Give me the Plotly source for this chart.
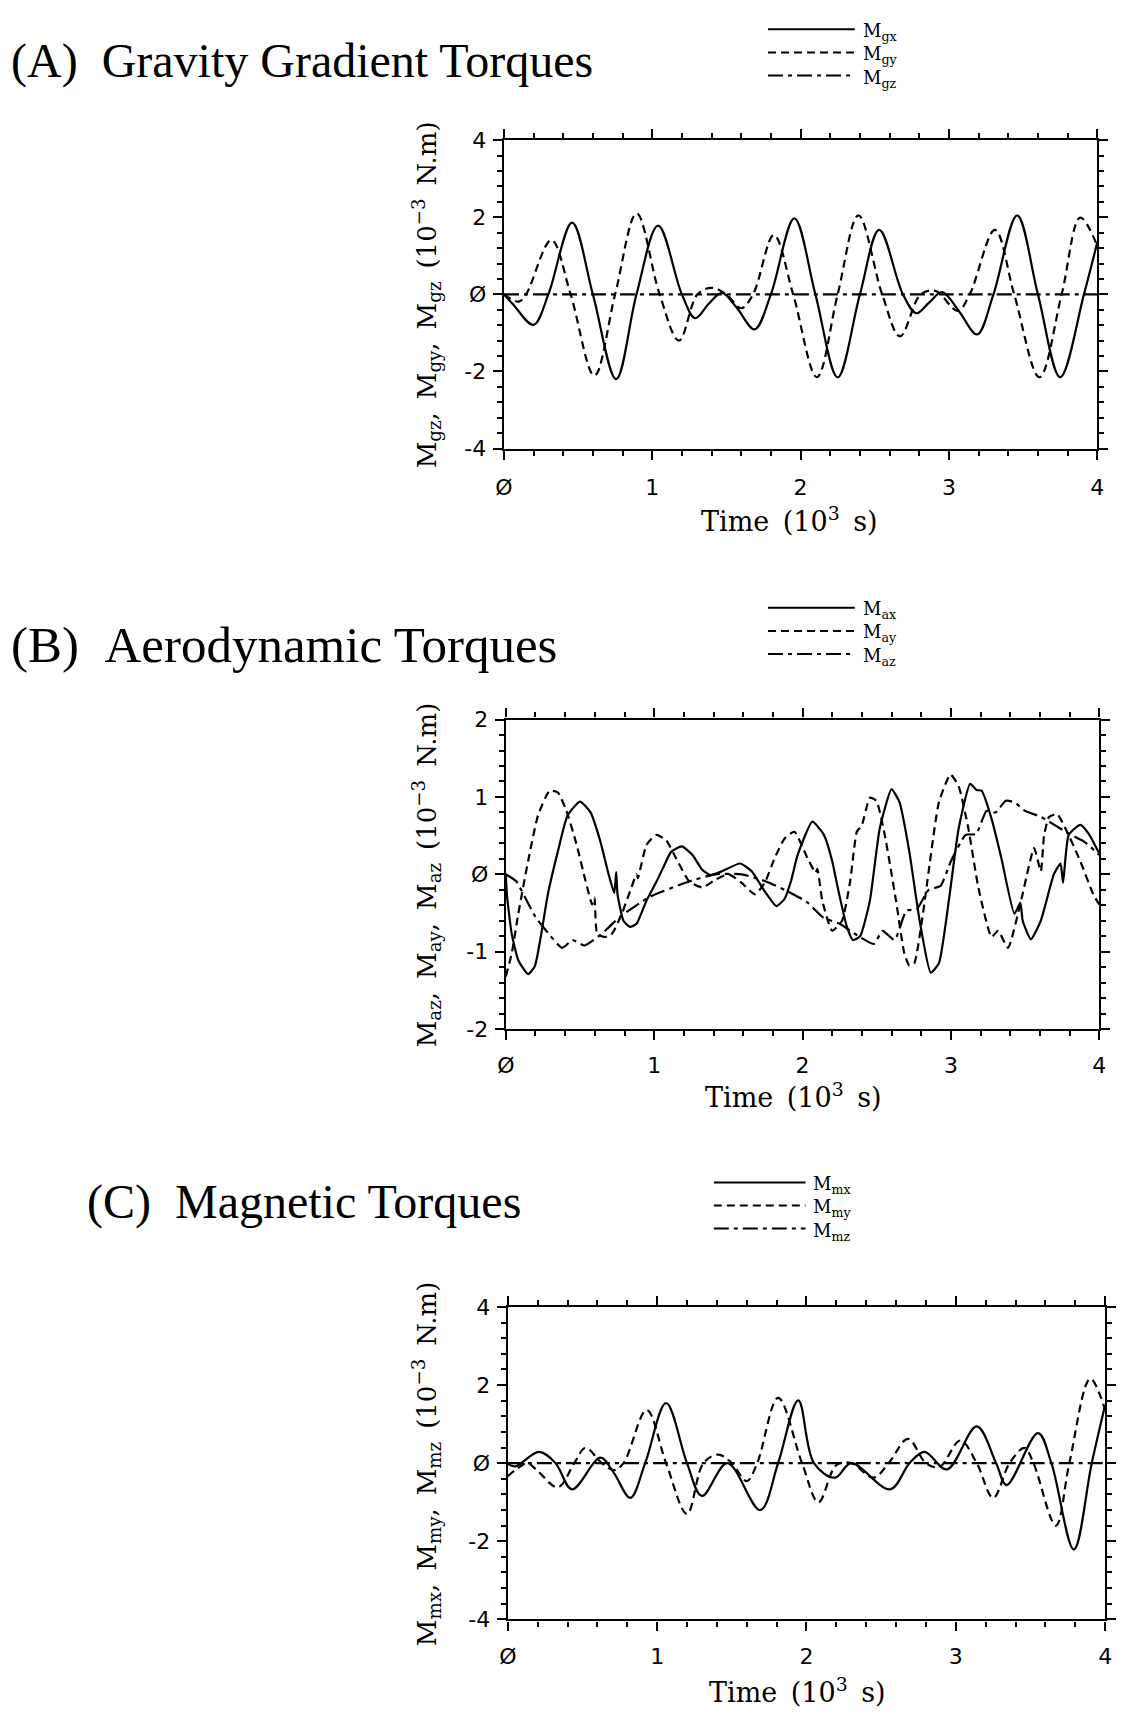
import plotly.graph_objects as go

# ---------------- Panel A: gravity gradient torques ----------------
t_gx = [0, 0.06, 0.2, 0.3, 0.46, 0.6, 0.757, 0.894, 1.04, 1.2, 1.29, 1.38, 1.47, 1.57, 1.69, 1.8,
        1.958, 2.1, 2.25, 2.4, 2.53, 2.69, 2.78, 2.87, 2.955, 3.07, 3.19, 3.3, 3.46, 3.6, 3.75, 3.91, 4.0]
v_gx = [0, -0.25, -0.79, 0, 1.86, 0, -2.2, 0, 1.78, 0, -0.62, -0.25, 0.04, -0.35, -0.91, 0,
        1.97, 0, -2.15, 0, 1.67, 0, -0.49, -0.2, 0.06, -0.45, -1.04, 0, 2.05, 0, -2.15, 0, 1.35]
t_gy = [0, 0.1, 0.15, 0.32, 0.45, 0.61, 0.75, 0.895, 1.05, 1.18, 1.305, 1.4, 1.5, 1.6, 1.68, 1.82,
        1.95, 2.11, 2.25, 2.39, 2.55, 2.67, 2.81, 2.91, 3.06, 3.14, 3.31, 3.44, 3.61, 3.76, 3.885, 4.0]
v_gy = [0, -0.19, 0, 1.41, 0, -2.11, 0, 2.1, 0, -1.2, 0, 0.17, 0, -0.36, 0, 1.54,
        0, -2.15, 0, 2.05, 0, -1.09, 0, 0.09, -0.43, 0, 1.67, 0, -2.15, 0, 1.99, 1.26]
t_gz = [0, 1, 2, 3, 4]
v_gz = [0, 0, 0, 0, 0]

# ---------------- Panel B: aerodynamic torques ----------------
t_ax = [0, 0.007, 0.04, 0.084, 0.15, 0.195, 0.239, 0.283, 0.35, 0.416, 0.5, 0.571, 0.638, 0.693,
        0.731, 0.744, 0.753, 0.793, 0.837, 0.881, 0.948, 1.014, 1.059, 1.114, 1.187, 1.258, 1.324,
        1.38, 1.457, 1.579, 1.657, 1.745, 1.823, 1.878, 1.922, 1.967, 2.066, 2.144, 2.2, 2.237,
        2.299, 2.34, 2.388, 2.454, 2.52, 2.6, 2.654, 2.72, 2.786, 2.864, 2.919, 2.986, 3.052,
        3.13, 3.174, 3.207, 3.274, 3.34, 3.428, 3.468, 3.484, 3.539, 3.606, 3.694, 3.739, 3.756,
        3.794, 3.872, 3.927, 4.0]
v_ax = [0, -0.26, -0.77, -1.11, -1.29, -1.19, -0.77, -0.26, 0.29, 0.76, 0.94, 0.8, 0.42, 0,
        -0.24, 0.03, -0.26, -0.6, -0.68, -0.64, -0.34, -0.1, 0.08, 0.29, 0.36, 0.25, 0.06,
        -0.01, 0.04, 0.14, 0.04, -0.22, -0.41, -0.32, -0.09, 0.25, 0.68, 0.51, 0.17, -0.17,
        -0.68, -0.85, -0.8, -0.34, 0.59, 1.1, 0.93, 0.29, -0.56, -1.27, -1.15, -0.34, 0.59,
        1.17, 1.09, 1.08, 0.72, 0.21, -0.51, -0.37, -0.6, -0.84, -0.6, 0, 0.14, -0.11,
        0.51, 0.64, 0.53, 0.27]
t_ay = [0, 0.04, 0.084, 0.15, 0.217, 0.295, 0.35, 0.405, 0.472, 0.538, 0.582, 0.598, 0.616, 0.671,
        0.715, 0.782, 0.837, 0.881, 0.89, 0.948, 1.014, 1.081, 1.147, 1.236, 1.324, 1.413, 1.502,
        1.59, 1.679, 1.745, 1.812, 1.878, 1.945, 2.033, 2.088, 2.1, 2.133, 2.2, 2.266, 2.321,
        2.366, 2.399, 2.454, 2.498, 2.554, 2.63, 2.686, 2.72, 2.753, 2.808, 2.853, 2.919, 2.997,
        3.052, 3.118, 3.185, 3.274, 3.318, 3.385, 3.473, 3.561, 3.606, 3.628, 3.661, 3.716,
        3.783, 3.872, 3.96, 4.0]
v_ay = [-1.32, -1.02, -0.51, 0.17, 0.76, 1.08, 1.06, 0.84, 0.42, -0.09, -0.39, -0.3, -0.77, -0.81,
        -0.77, -0.51, -0.22, 0, -0.05, 0.38, 0.51, 0.44, 0.21, -0.09, -0.17, -0.07, 0,
        -0.11, -0.26, -0.11, 0.21, 0.46, 0.55, 0.21, 0.02, 0.07, -0.34, -0.73, -0.6, -0.09,
        0.55, 0.63, 0.99, 0.95, 0.51, -0.34, -1.02, -1.18, -1.15, -0.56, 0.08, 0.93, 1.29,
        1.14, 0.59, -0.17, -0.81, -0.73, -0.95, -0.34, 0.34, 0.04, 0.5, 0.74, 0.78,
        0.55, 0.17, -0.26, -0.39]
t_az = [0, 0.07, 0.13, 0.2, 0.26, 0.38, 0.45, 0.53, 0.64, 0.77, 0.97, 1.24, 1.41, 1.59, 1.75, 1.9,
        2.03, 2.14, 2.25, 2.37, 2.48, 2.54, 2.62, 2.7, 2.77, 2.85, 2.93, 3.0, 3.1, 3.17, 3.24,
        3.3, 3.37, 3.43, 3.5, 3.61, 3.79, 3.9, 4.0]
v_az = [0, -0.09, -0.3, -0.55, -0.7, -0.95, -0.85, -0.92, -0.78, -0.55, -0.29, -0.09, 0, 0, -0.09,
        -0.22, -0.36, -0.56, -0.64, -0.79, -0.9, -0.73, -0.85, -0.47, -0.45, -0.2, -0.15, 0.17,
        0.51, 0.52, 0.82, 0.8, 0.95, 0.93, 0.82, 0.74, 0.53, 0.42, 0.25]

# ---------------- Panel C: magnetic torques ----------------
t_mx = [0, 0.05, 0.21, 0.32, 0.43, 0.62, 0.71, 0.82, 0.92, 1.06, 1.2, 1.3, 1.47, 1.69, 1.81, 1.945,
        2.05, 2.19, 2.3, 2.56, 2.69, 2.79, 2.94, 3.14, 3.27, 3.34, 3.55, 3.64, 3.79, 3.91, 4.0]
v_mx = [-0.02, -0.08, 0.29, 0, -0.67, 0.14, -0.25, -0.89, 0, 1.54, 0, -0.84, 0, -1.2, 0, 1.61,
        0, -0.37, 0, -0.67, 0, 0.29, -0.16, 0.94, 0, -0.56, 0.77, 0, -2.21, 0, 1.49]
t_my = [0, 0.06, 0.13, 0.2, 0.335, 0.445, 0.52, 0.63, 0.71, 0.775, 0.93, 1.06, 1.2, 1.31, 1.41, 1.5,
        1.6, 1.67, 1.81, 1.97, 2.08, 2.2, 2.3, 2.45, 2.55, 2.68, 2.8, 2.89, 3.03, 3.14, 3.25,
        3.36, 3.46, 3.52, 3.67, 3.76, 3.9, 4.0]
v_my = [-0.33, -0.15, 0, -0.2, -0.62, 0, 0.39, 0, -0.18, 0, 1.36, 0, -1.3, 0, 0.22, 0,
        -0.46, 0, 1.67, 0, -1.0, -0.05, 0, -0.37, 0, 0.62, 0, -0.1, 0.58, 0, -0.89,
        0, 0.39, 0, -1.6, 0, 2.16, 1.36]
t_mz = [0, 1, 2, 3, 4]
v_mz = [0, 0, 0, 0, 0]

x_ticks = [0, 1, 2, 3, 4]
x_ticktext = ["Ø", "1", "2", "3", "4"]
y_ticks_ac = [-4, -2, 0, 2, 4]
y_ticktext_ac = ["-4", "-2", "Ø", "2", "4"]
y_ticks_b = [-2, -1, 0, 1, 2]
y_ticktext_b = ["-2", "-1", "Ø", "1", "2"]

titles = ["(A)\u00a0\u00a0Gravity Gradient Torques", "(B)\u00a0\u00a0Aerodynamic Torques",
          "(C)\u00a0\u00a0Magnetic Torques"]
legend_labels = [["M<sub>gx</sub>", "M<sub>gy</sub>", "M<sub>gz</sub>"],
                 ["M<sub>ax</sub>", "M<sub>ay</sub>", "M<sub>az</sub>"],
                 ["M<sub>mx</sub>", "M<sub>my</sub>", "M<sub>mz</sub>"]]
SP = "\u2002"
ytitles = [f"M<sub>gz</sub>,{SP}M<sub>gy</sub>,{SP}M<sub>gz</sub>{SP}(10<sup>−3</sup>{SP}N.m)",
           f"M<sub>az</sub>,{SP}M<sub>ay</sub>,{SP}M<sub>az</sub>{SP}(10<sup>−3</sup>{SP}N.m)",
           f"M<sub>mx</sub>,{SP}M<sub>my</sub>,{SP}M<sub>mz</sub>{SP}(10<sup>−3</sup>{SP}N.m)"]
xtitle = f"Time{SP}(10<sup>3</sup>{SP}s)"

W, H = 1124, 1725
SERIF = "Liberation Serif"
SERIF2 = "DejaVu Serif"
SANS = "DejaVu Sans"
DASH = "8px,5px"
DASHDOT = "15px,5px,4px,5px"

def px(x):
    return x / W

def py(y):
    return 1 - y / H

# panel geometry (pixels): left, right, top, bottom
panels = [(502, 1104, 130, 443), (504, 1106, 718, 1032), (506, 1112, 1314, 1631)]

fig = go.Figure()

data_sets = [
    [(t_gx, v_gx, "solid"), (t_gy, v_gy, DASH), (t_gz, v_gz, DASHDOT)],
    [(t_ax, v_ax, "solid"), (t_ay, v_ay, DASH), (t_az, v_az, DASHDOT)],
    [(t_mx, v_mx, "solid"), (t_my, v_my, DASH), (t_mz, v_mz, DASHDOT)],
]
smooth = [1.0, 0.5, 1.0]

for i, series in enumerate(data_sets):
    xa = "x" if i == 0 else f"x{i+1}"
    ya = "y" if i == 0 else f"y{i+1}"
    for (tt, vv, dash), name in zip(series, legend_labels[i]):
        fig.add_trace(go.Scatter(x=tt, y=vv, mode="lines", xaxis=xa, yaxis=ya,
                                 name=name, showlegend=False,
                                 line=dict(color="black", width=2.2, dash=dash,
                                           shape="spline", smoothing=smooth[i])))

def axis_common():
    return dict(showline=True, linecolor="black", linewidth=2.4, mirror="ticks",
                ticks="outside", ticklen=9, tickwidth=2, tickcolor="black",
                showgrid=False, zeroline=False,
                tickfont=dict(family=SANS, size=22, color="black"))

layout = dict(width=W, height=H, margin=dict(l=0, r=0, t=0, b=0),
              paper_bgcolor="white", plot_bgcolor="white", showlegend=False)

yspecs = [(y_ticks_ac, y_ticktext_ac, [-4, 4], 0.4),
          (y_ticks_b, y_ticktext_b, [-2, 2], 0.2),
          (y_ticks_ac, y_ticktext_ac, [-4, 4], 0.4)]
x_standoff = [9, 6, 7]

for i, (l, r, t, b) in enumerate(panels):
    xk = "xaxis" if i == 0 else f"xaxis{i+1}"
    yk = "yaxis" if i == 0 else f"yaxis{i+1}"
    ya = "y" if i == 0 else f"y{i+1}"
    xa = "x" if i == 0 else f"x{i+1}"
    xd = axis_common()
    xd.update(domain=[px(l), px(r)], range=[0, 4], anchor=ya,
              tickmode="array", tickvals=x_ticks, ticktext=x_ticktext,
              ticklabelstandoff=x_standoff[i],
              minor=dict(tickmode="linear", tick0=0, dtick=0.2, ticks="outside",
                         ticklen=5, tickwidth=1.5, tickcolor="black", showgrid=False))
    yv, yt, yr, ymin = yspecs[i]
    yd = axis_common()
    yd.update(domain=[py(b), py(t)], range=yr, anchor=xa,
              tickmode="array", tickvals=yv, ticktext=yt, ticklabelstandoff=2,
              minor=dict(tickmode="linear", tick0=0, dtick=ymin, ticks="outside",
                         ticklen=5, tickwidth=1.5, tickcolor="black", showgrid=False))
    layout[xk] = xd
    layout[yk] = yd

fig.update_layout(**layout)

# titles
title_pos = [(0, 50, 48), (0, 642, 51), (77, 1207, 48)]
for (x, y, fs), txt in zip(title_pos, titles):
    fig.add_annotation(text=txt, xref="paper", yref="paper", x=px(x), y=py(y),
                       xanchor="left", yanchor="middle", showarrow=False,
                       font=dict(family=SERIF, size=fs, color="black"))

# legend keys (decorative) and labels
LEG_FONT = 18
ROW = LEG_FONT * 1.3
leg_rows = [(770, 858, 864, 41), (770, 858, 864, 628), (715, 808, 814, 1211)]
dashes = ["solid", DASH, DASHDOT]
for i, (x0, x1, xl, ymid) in enumerate(leg_rows):
    for j in range(3):
        yy = ymid + (j - 1) * ROW
        fig.add_shape(type="line", xref="paper", yref="paper", x0=px(x0), x1=px(x1),
                      y0=py(yy), y1=py(yy), line=dict(color="black", width=2, dash=dashes[j]))
    fig.add_annotation(text="<br>".join(legend_labels[i]), xref="paper", yref="paper",
                       x=px(xl), y=py(ymid + 3), xanchor="left", yanchor="middle", align="left",
                       showarrow=False, font=dict(family=SERIF2, size=LEG_FONT, color="black"))

# y-axis titles
for i, (l, r, t, b) in enumerate(panels):
    fig.add_annotation(text=ytitles[i], xref="paper", yref="paper", x=px(423),
                       y=py((t + b) / 2), xanchor="center", yanchor="middle",
                       textangle=-90, showarrow=False,
                       font=dict(family=SERIF2, size=26, color="black"))

# x-axis titles
xt_pos = [(792, 515), (796, 1099), (800, 1703)]
for (x, y) in xt_pos:
    fig.add_annotation(text=xtitle, xref="paper", yref="paper", x=px(x), y=py(y),
                       xanchor="center", yanchor="middle", showarrow=False,
                       font=dict(family=SERIF2, size=27, color="black"))

fig.write_html("out.html")
